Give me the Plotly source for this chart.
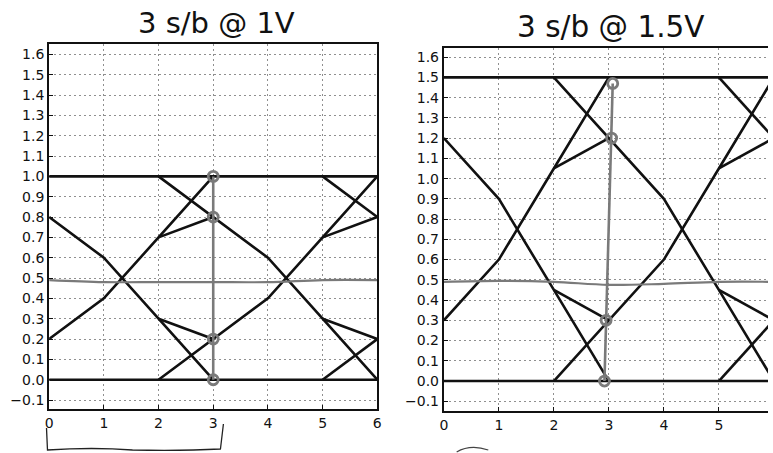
import plotly.graph_objects as go

# ---------------- data ----------------
titles = ["3 s/b @ 1V", "3 s/b @ 1.5V"]
swing = [1.0, 1.5]

# eye-diagram traces (sample index, normalized level), scaled by swing
trace_x = [
    [0, 1, 2, 3],
    [2, 3],
    [0, 1, 2, 3],
    [2, 3],
    [2, 3, 4, 5, 6],
    [5, 6],
    [2, 3, 4, 5, 6],
    [5, 6],
    [5, 6],
    [5, 6],
    [0, 6],
    [0, 6],
]
trace_y = [
    [0.8, 0.6, 0.3, 0.0],
    [0.3, 0.2],
    [0.2, 0.4, 0.7, 1.0],
    [0.7, 0.8],
    [1.0, 0.8, 0.6, 0.3, 0.0],
    [0.3, 0.2],
    [0.0, 0.2, 0.4, 0.7, 1.0],
    [0.7, 0.8],
    [1.0, 0.8],
    [0.0, 0.2],
    [1.0, 1.0],
    [0.0, 0.0],
]

# hand-drawn annotations (pen marks)
pen_h_x = [0, 1, 2, 3, 4, 5, 6]
pen_h_y = [[0.49, 0.48, 0.48, 0.48, 0.48, 0.49, 0.49],
           [0.49, 0.495, 0.49, 0.475, 0.48, 0.49, 0.49]]
pen_v_x = [[3.0, 3.0, 3.0, 3.0], [2.92, 2.95, 3.05, 3.07]]
pen_v_y = [[0.0, 0.2, 0.8, 1.0], [0.0, 0.3, 1.2, 1.47]]

x_ticks = [0, 1, 2, 3, 4, 5, 6]
y_ticks = [round(-0.1 + 0.1 * i, 1) for i in range(18)]

# ---------------- figure ----------------
INK = "#111111"
PEN = "#7a7a7a"
fig = go.Figure()

for k in range(2):
    xa = "x" if k == 0 else "x2"
    ya = "y" if k == 0 else "y2"
    for tx, ty in zip(trace_x, trace_y):
        fig.add_trace(go.Scatter(
            x=tx, y=[v * swing[k] for v in ty], mode="lines",
            line=dict(color=INK, width=2.6), xaxis=xa, yaxis=ya,
            showlegend=False, hoverinfo="skip"))
    fig.add_trace(go.Scatter(
        x=pen_h_x, y=pen_h_y[k], mode="lines", line=dict(color=PEN, width=2.2, shape="spline"),
        xaxis=xa, yaxis=ya, showlegend=False, hoverinfo="skip"))
    fig.add_trace(go.Scatter(
        x=pen_v_x[k], y=pen_v_y[k], mode="lines+markers",
        line=dict(color=PEN, width=2.6),
        marker=dict(symbol="circle-open", size=10, color=PEN, line=dict(width=2.8)),
        xaxis=xa, yaxis=ya, showlegend=False, hoverinfo="skip"))

axis_common = dict(
    showgrid=True, gridcolor="#8f8f8f", griddash="2px,3px", gridwidth=1,
    showline=True, linecolor=INK, linewidth=2, zeroline=False,
    ticks="inside", ticklen=4, tickcolor=INK,
    tickfont=dict(family="DejaVu Sans", size=14, color="#111"),
)

fig.update_layout(
    width=773, height=453,
    margin=dict(l=0, r=0, t=0, b=0),
    paper_bgcolor="white", plot_bgcolor="white",
    xaxis=dict(domain=[0.0591, 0.4886], range=[0, 6], tickvals=x_ticks, mirror=True,
               anchor="y", **axis_common),
    yaxis=dict(domain=[0.0971, 0.9029], range=[-0.144, 1.651], tickvals=y_ticks,
               tickformat=".1f", mirror=True, anchor="x", **axis_common),
    xaxis2=dict(domain=[0.5757, 1.0], range=[0, 5.893], tickvals=x_ticks, mirror=True,
                anchor="y2", **axis_common),
    yaxis2=dict(domain=[0.0927, 0.894], range=[-0.148, 1.645], tickvals=y_ticks,
                tickformat=".1f", mirror=False, anchor="x2", **axis_common),
    annotations=[
        dict(text=titles[0], x=215 / 773, y=1 - 23 / 453, xref="paper", yref="paper",
             showarrow=False, font=dict(family="DejaVu Sans", size=29, color="#111"),
             xanchor="center", yanchor="middle"),
        dict(text=titles[1], x=614 / 773, y=1 - 27 / 453, xref="paper", yref="paper",
             showarrow=False, font=dict(family="DejaVu Sans", size=29.5, color="#111"),
             xanchor="center", yanchor="middle"),
    ],
    shapes=[
        dict(type="path", xref="paper", yref="paper",
             path="M %f %f L %f %f Q %f %f %f %f Q %f %f %f %f L %f %f" % (
                 43 / 773, 1 - 428 / 453, 44 / 773, 1 - 450 / 453,
                 90 / 773, 1 - 447 / 453, 130 / 773, 1 - 450 / 453,
                 180 / 773, 1 - 451 / 453, 219 / 773, 1 - 449 / 453,
                 222 / 773, 1 - 424 / 453),
             line=dict(color="#222", width=1.3)),
        dict(type="path", xref="paper", yref="paper",
             path="M %f %f Q %f %f %f %f" % (
                 458 / 773, 1 - 452 / 453, 472 / 773, 1 - 444 / 453,
                 490 / 773, 1 - 450 / 453),
             line=dict(color="#444", width=1.3)),
    ],
)

fig.write_html("out.html",
               config={"displayModeBar": False},
               post_script="document.body.style.margin='0';document.body.style.padding='0';"
                           "document.body.style.overflow='hidden';")
